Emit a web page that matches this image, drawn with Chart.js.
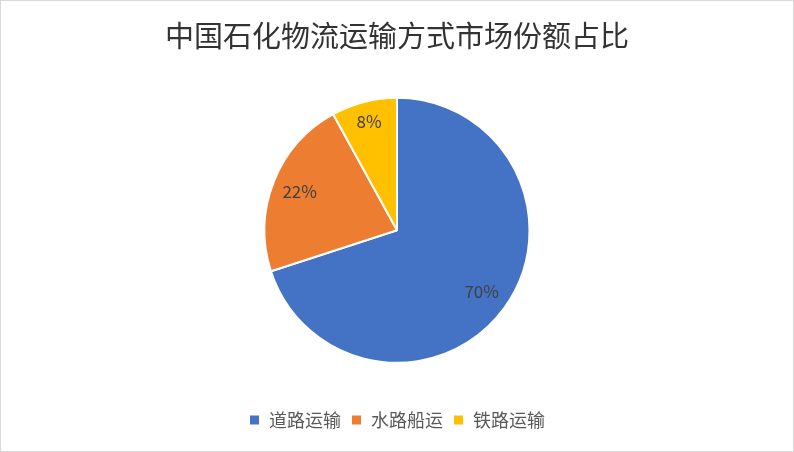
<!DOCTYPE html>
<html><head><meta charset="utf-8">
<script src="https://cdn.jsdelivr.net/npm/chart.js@4"></script>
<style>
html,body{margin:0;padding:0;background:#fff;}
#wrap{position:absolute;left:0;top:0;width:794px;height:452px;box-sizing:border-box;border:1px solid #D9D9D9;}
canvas{display:block;}
</style></head>
<body>
<div id="wrap"><canvas id="c" width="792" height="450"></canvas></div>
<script>
const categories = ['道路运输', '水路船运', '铁路运输'];
const shares = [70, 22, 8];
const sliceColors = ['#4472C4', '#ED7D31', '#FFC000'];
const chartTitle = '中国石化物流运输方式市场份额占比';

const labelPlugin = {
  id: 'sliceLabels',
  afterDatasetsDraw(chart) {
    const ctx = chart.ctx;
    const meta = chart.getDatasetMeta(0);
    ctx.save();
    ctx.font = '17px "Noto Sans CJK SC", "Noto Sans", sans-serif';
    ctx.fillStyle = '#404040';
    ctx.textAlign = 'center';
    ctx.textBaseline = 'middle';
    meta.data.forEach((arc, i) => {
      const p = arc.getProps(['x','y','startAngle','endAngle','outerRadius'], true);
      const mid = (p.startAngle + p.endAngle) / 2;
      const f = shares[i] < 10 ? 0.85 : 0.79;
      const x = p.x + Math.cos(mid) * p.outerRadius * f;
      const y = p.y + Math.sin(mid) * p.outerRadius * f;
      ctx.fillText(shares[i] + '%', x, y);
    });
    ctx.restore();
  }
};

new Chart(document.getElementById('c'), {
  type: 'pie',
  data: {
    labels: categories,
    datasets: [{
      data: shares,
      backgroundColor: sliceColors,
      borderColor: '#FFFFFF',
      borderWidth: 2
    }]
  },
  options: {
    responsive: false,
    animation: false,
    layout: { padding: { top: 0, bottom: 12, left: 0, right: 0 } },
    plugins: {
      title: {
        display: true,
        text: chartTitle,
        color: '#333333',
        font: { size: 29, family: '"Noto Sans CJK SC", sans-serif', weight: 'normal' },
        padding: { top: 18, bottom: 43 }
      },
      legend: {
        position: 'bottom',
        title: { display: true, text: ' ', font: { size: 1 }, padding: { top: 0, bottom: 36 } },
        labels: {
          boxWidth: 11, boxHeight: 11,
          color: '#595959',
          padding: 10,
          font: { size: 18, family: '"Noto Sans CJK SC", sans-serif' }
        }
      },
      tooltip: { enabled: false }
    }
  },
  plugins: [labelPlugin]
});
</script>
</body></html>
